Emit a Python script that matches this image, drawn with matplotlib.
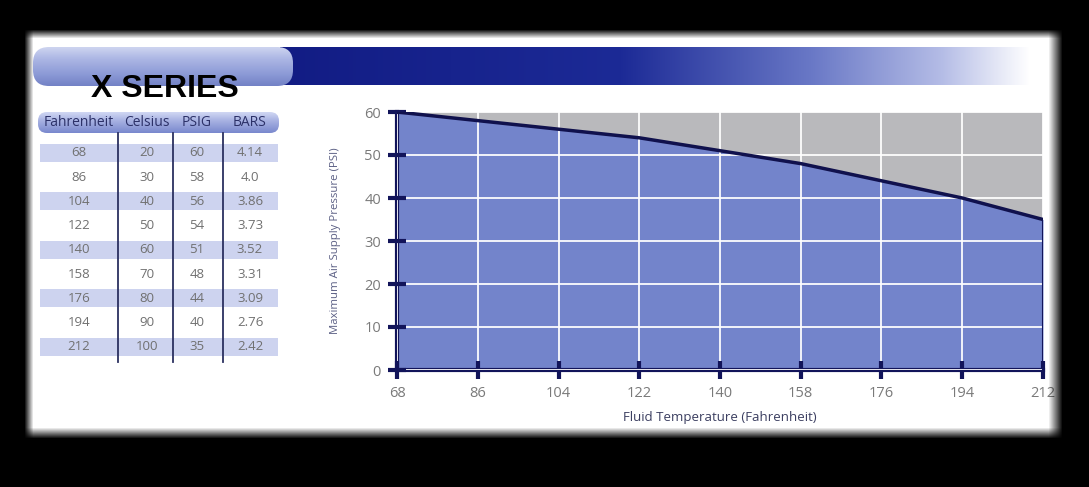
import numpy as np
import matplotlib
matplotlib.use("Agg")
import matplotlib.pyplot as plt
from matplotlib.patches import FancyBboxPatch, Rectangle

# table / chart data
headers = ["Fahrenheit", "Celsius", "PSIG", "BARS"]
temps_f = [68, 86, 104, 122, 140, 158, 176, 194, 212]
temps_c = [20, 30, 40, 50, 60, 70, 80, 90, 100]
psig = [60, 58, 56, 54, 51, 48, 44, 40, 35]
bars = ["4.14", "4.0", "3.86", "3.73", "3.52", "3.31", "3.09", "2.76", "2.42"]
yticks = [0, 10, 20, 30, 40, 50, 60]

plt.rcParams['font.family'] = ['Open Sans', 'DejaVu Sans']

W, H = 1089, 487
fig = plt.figure(figsize=(W/100, H/100), dpi=100, facecolor='white')

# background canvas in pixel coordinates
bg = fig.add_axes([0, 0, 1, 1])
bg.axis('off')

def grad_img(stops, cols, n):
	cols = np.array(cols)/255.0
	t = np.linspace(stops[0], stops[-1], n)
	return np.stack([np.interp(t, stops, cols[:, k]) for k in range(3)], -1)

# dark banner bar fading to white
bar = grad_img([280, 620, 810, 940, 1028],
	[[18, 28, 132], [28, 42, 150], [105, 120, 198], [180, 188, 230], [255, 255, 255]], 750)
bg.imshow(bar[None, :, :], extent=(280, 1030, 85, 47), aspect='auto', interpolation='bilinear')

# light pill on the left of the banner
pill = FancyBboxPatch((33, 47), 260, 39, boxstyle='round,pad=0,rounding_size=16', fc='none', ec='none')
bg.add_patch(pill)
pimg = grad_img([0, 0.3, 0.7, 1],
	[[205, 212, 240], [172, 182, 228], [140, 154, 214], [115, 130, 198]], 40)
im = bg.imshow(pimg[:, None, :], extent=(33, 293, 86, 47), aspect='auto', interpolation='bilinear')
im.set_clip_path(pill)

bg.text(165, 89, "X SERIES", fontsize=23, fontweight='bold', family=['Liberation Sans', 'DejaVu Sans'],
	ha='center', va='center', color='black')

# table header pill
hpill = FancyBboxPatch((38, 112), 241, 21, boxstyle='round,pad=0,rounding_size=9', fc='none', ec='none')
bg.add_patch(hpill)
himg = grad_img([0, 0.4, 1], [[208, 215, 243], [168, 178, 226], [122, 137, 206]], 30)
im2 = bg.imshow(himg[:, None, :], extent=(38, 279, 133, 112), aspect='auto', interpolation='bilinear')
im2.set_clip_path(hpill)

col_x = [79, 147, 197, 250]
for cx, h in zip(col_x, headers):
	bg.text(cx, 122, h, fontsize=10, color='#2c3168', ha='center', va='center')

row_y = [153 + i*24.2 for i in range(len(temps_f))]
for i, y in enumerate(row_y):
	if i % 2 == 0:
		bg.add_patch(Rectangle((40, y - 9), 238, 18, fc='#cdd3ef', ec='none'))
	vals = [str(temps_f[i]), str(temps_c[i]), str(psig[i]), bars[i]]
	for cx, v in zip(col_x, vals):
		bg.text(cx, y, v, fontsize=9.5, color='#707070', ha='center', va='center')

for lx in [118, 173, 223]:
	bg.plot([lx, lx], [133, 362], color='#2b3060', lw=1.3)

bg.set_xlim(0, W)
bg.set_ylim(H, 0)

# the chart
navy = '#12145a'
ax = fig.add_axes([397/W, 1 - 370/H, 646/W, 258/H])
ax.set_facecolor('#b9b9bc')
ax.fill_between(temps_f, psig, 0, color='#7384cb', lw=0, zorder=1)
ax.plot(temps_f, psig, color='#10114d', lw=2.5, zorder=5)
ax.vlines(temps_f[-1], 0, psig[-1], color=navy, lw=1.5, zorder=5)
ax.set_axisbelow(False)
ax.grid(True, color='white', lw=1.4, alpha=0.9)
ax.set_xlim(temps_f[0], temps_f[-1])
ax.set_ylim(0, 60)
ax.set_xticks(temps_f)
ax.set_yticks(yticks)
for s in ['top', 'right']:
	ax.spines[s].set_visible(False)
for s in ['left', 'bottom']:
	ax.spines[s].set_color(navy)
	ax.spines[s].set_linewidth(3)
ax.tick_params(direction='inout', length=13, width=3, color=navy, labelcolor='#7a7a7a', labelsize=10.5, pad=5)
ax.set_xlabel("Fluid Temperature (Fahrenheit)", fontsize=9.5, color='#3b3e60', labelpad=7)
ax.set_ylabel("Maximum Air Supply Pressure (PSI)", fontsize=8.2, color='#5c6085', labelpad=17)

# dark glowing frame around the white panel
yy, xx = np.mgrid[0:H, 0:W]
mx = np.clip((xx - 24)/9.0, 0, 1)*np.clip((1062 - xx)/14.0, 0, 1)
my = np.clip((yy - 29)/9.0, 0, 1)*np.clip((438 - yy)/11.0, 0, 1)
mask = mx*my
rgba = np.zeros((H, W, 4))
rgba[..., 3] = 1 - mask
ov = fig.add_axes([0, 0, 1, 1])
ov.imshow(rgba, extent=(0, W, H, 0), interpolation='bilinear', aspect='auto')
ov.set_xlim(0, W)
ov.set_ylim(H, 0)
ov.axis('off')

fig.savefig("out.png", dpi=100, facecolor='white')
